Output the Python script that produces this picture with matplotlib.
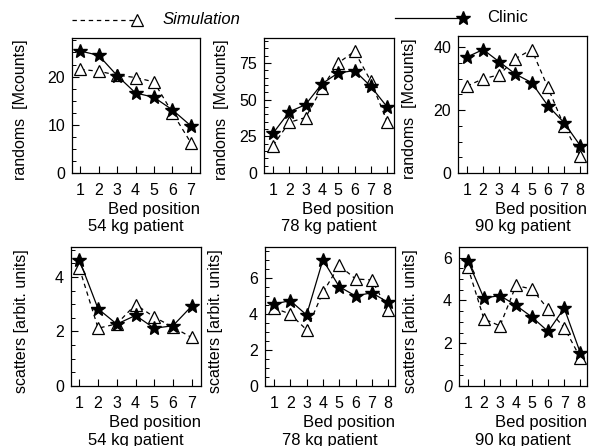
import numpy as np
import matplotlib
matplotlib.use("Agg")
import matplotlib.pyplot as plt
from matplotlib.ticker import AutoMinorLocator
from matplotlib.lines import Line2D

plt.rcParams['font.family'] = ['Liberation Sans', 'DejaVu Sans']
plt.rcParams['font.size'] = 11.5

# ---- data ----
patients = ["54 kg patient", "78 kg patient", "90 kg patient"]

rand_clinic_54 = [25.3, 24.4, 20.2, 16.6, 15.7, 13.1, 9.8]
rand_sim_54 = [21.5, 21.1, 20.3, 19.8, 18.9, 12.5, 6.3]
rand_clinic_78 = [27.0, 41.7, 46.6, 60.8, 68.2, 69.8, 59.0, 45.0]
rand_sim_78 = [18.7, 34.5, 37.8, 57.9, 75.0, 82.9, 62.6, 35.0]
rand_clinic_90 = [36.8, 39.2, 35.3, 31.4, 28.7, 21.4, 16.0, 8.7]
rand_sim_90 = [27.6, 29.9, 31.2, 36.3, 39.2, 27.2, 15.0, 5.3]

scat_clinic_54 = [4.62, 2.83, 2.27, 2.59, 2.12, 2.21, 2.93]
scat_sim_54 = [4.32, 2.12, 2.28, 2.99, 2.53, 2.16, 1.78]
scat_clinic_78 = [4.57, 4.76, 3.96, 7.03, 5.54, 5.02, 5.20, 4.66]
scat_sim_78 = [4.35, 4.01, 3.13, 5.22, 6.72, 5.97, 5.91, 4.23]
scat_clinic_90 = [5.86, 4.11, 4.23, 3.77, 3.22, 2.55, 3.64, 1.56]
scat_sim_90 = [5.56, 3.14, 2.81, 4.70, 4.53, 3.59, 2.73, 1.33]

randoms_clinic = [rand_clinic_54, rand_clinic_78, rand_clinic_90]
randoms_sim = [rand_sim_54, rand_sim_78, rand_sim_90]
scatters_clinic = [scat_clinic_54, scat_clinic_78, scat_clinic_90]
scatters_sim = [scat_sim_54, scat_sim_78, scat_sim_90]

W, H = 589, 446
fig = plt.figure(figsize=(W / 100, H / 100), dpi=100)


def px_axes(x0, y0, x1, y1):
    # pixel box (top-left origin) -> figure fraction
    return fig.add_axes([x0 / W, 1 - y1 / H, (x1 - x0) / W, (y1 - y0) / H])


top_boxes = [(72, 38, 200, 173), (264, 38, 394, 173), (458, 36, 587, 173)]
bot_boxes = [(71, 247, 201, 386), (265, 247, 395, 386), (459, 247, 587, 386)]

rand_ylim = [28, 92, 43.5]
rand_ticks = [[0, 10, 20], [0, 25, 50, 75], [0, 20, 40]]
rand_minor = [4, 5, 4]
scat_ylim = [5.1, 7.75, 6.5]
scat_ticks = [[0, 2, 4], [0, 2, 4, 6], [0, 2, 4, 6]]
label_x = [-0.34, -0.27, -0.32]


def panel(box, clinic, sim, ylim, yticks, minor, ylabel, title, lx):
    ax = px_axes(*box)
    x = np.arange(1, len(clinic) + 1)
    ax.plot(x, sim, ls=(0, (3.5, 3)), color='black', lw=0.9, marker='^',
            ms=9, mfc='white', mec='black', mew=0.9)
    ax.plot(x, clinic, ls='-', color='black', lw=0.9, marker='*',
            ms=10, mfc='black', mec='black')
    if len(clinic) == 7:
        ax.set_xlim(0.55, 7.5)
    else:
        ax.set_xlim(0.45, 8.42)
    ax.set_ylim(0, ylim)
    ax.set_xticks(x)
    ax.set_yticks(yticks)
    ax.yaxis.set_minor_locator(AutoMinorLocator(minor))
    ax.tick_params(direction='in', length=5, width=0.8, labelsize=11.5, pad=7)
    ax.tick_params(axis='y', pad=5)
    ax.tick_params(which='minor', direction='in', length=3, width=0.7)
    for s in ax.spines.values():
        s.set_linewidth(0.9)
    ax.set_ylabel(ylabel, fontsize=11.5)
    ax.yaxis.set_label_coords(lx, 0.47)
    ax.set_xlabel("Bed position", fontsize=12, loc='right', labelpad=3)
    ax.annotate(title, xy=(0.5, 0), xycoords='axes fraction',
                xytext=(0, -54), textcoords='offset pixels',
                ha='center', va='center', fontsize=12)
    return ax


for i in range(3):
    panel(top_boxes[i], randoms_clinic[i], randoms_sim[i], rand_ylim[i],
          rand_ticks[i], rand_minor[i], "randoms  [Mcounts]", patients[i], label_x[i])
    ax = panel(bot_boxes[i], scatters_clinic[i], scatters_sim[i], scat_ylim[i],
               scat_ticks[i], 4, "scatters [arbit. units]", patients[i], -0.32)
    if i == 2:
        ax.get_yticklabels()[0].set_fontstyle('italic')

# legend row across the top
sim_handle = Line2D([72 / W, 137 / W], [1 - 20 / H, 1 - 20 / H], transform=fig.transFigure,
                    ls=(0, (3.5, 3)), color='black', lw=0.9, marker='^', ms=9,
                    mfc='white', mew=0.9, markevery=[1])
cli_handle = Line2D([395 / W, 463 / W], [1 - 18 / H, 1 - 18 / H], transform=fig.transFigure,
                    ls='-', color='black', lw=0.9, marker='*', ms=10,
                    mfc='black', markevery=[1])
fig.add_artist(sim_handle)
fig.add_artist(cli_handle)
fig.text(163 / W, 1 - 19 / H, "Simulation", style='italic', fontsize=12, va='center')
fig.text(487 / W, 1 - 18 / H, "Clinic", fontsize=12, va='center')

fig.savefig("out.png", dpi=100)
